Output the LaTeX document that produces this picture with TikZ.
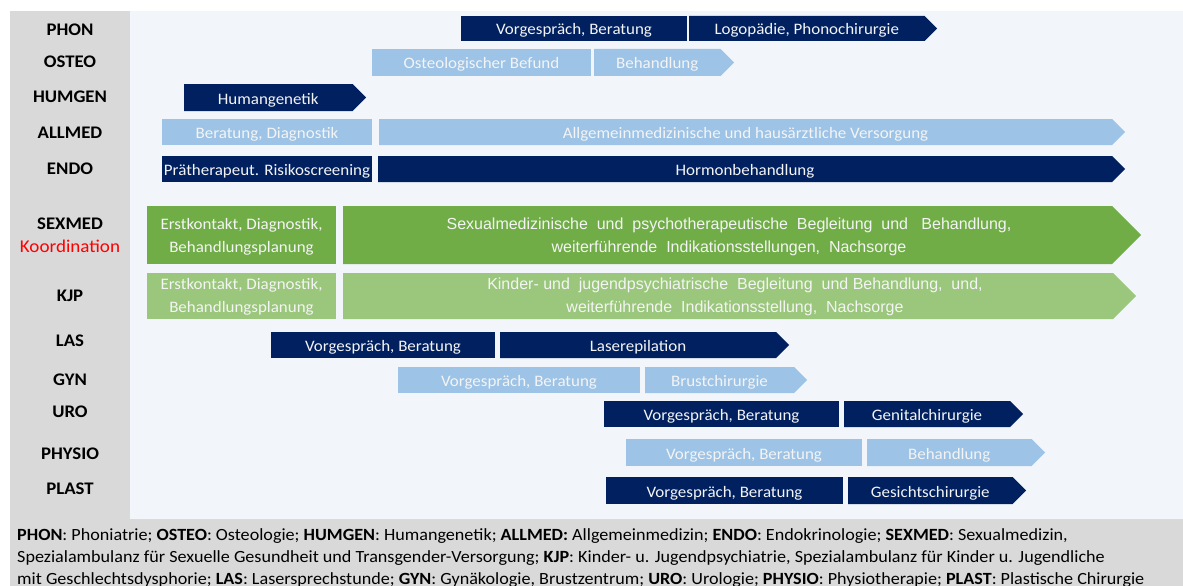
\documentclass[tikz,border=0pt]{standalone}
\usepackage{fontspec}
\setmainfont{Carlito}[FakeStretch=1.06]
\newfontfamily\narrowfont{Liberation Sans}
\definecolor{navy}{HTML}{002060}
\definecolor{lblue}{HTML}{9DC3E6}
\definecolor{dgreen}{HTML}{70AD47}
\definecolor{lgreen}{HTML}{9AC77B}
\definecolor{bgblue}{HTML}{F2F6FB}
\definecolor{graycol}{HTML}{D9D9D9}
\definecolor{koord}{HTML}{FF0000}
\definecolor{txtw}{HTML}{F4F4F4}
\tikzset{
  lbl/.style={font=\fontsize{17.7}{20}\selectfont\bfseries, text=black, inner sep=0pt, text height=11.5pt, text depth=0pt},
  bartext/.style={font=\fontsize{16}{19}\selectfont, text=txtw, inner sep=0pt, text height=10pt, text depth=0pt, yshift=-1.5pt},
  twoline/.style={font=\fontsize{16}{23}\selectfont, text=txtw, inner sep=0pt, align=center},
  greentext/.style={font=\narrowfont\fontsize{16}{23}\selectfont, text=txtw, inner sep=0pt, align=center},
  legend/.style={font=\fontsize{17.1}{22}\selectfont, text=black, inner sep=0pt, anchor=base west},
}
% #1 name, #2 x1, #3 x2, #4 ytop, #5 ybottom, #6 colour, #7 text
\newcommand\rectbar[7]{%
  \fill[#6] (#2,#4) rectangle (#3,#5);
  \node[bartext] (#1) at ({(#2+#3)/2},{(#4+#5)/2}) {#7};}
% arrow bar: #3 = tip x
\newcommand\arrowbar[7]{%
  \fill[#6] (#2,#4) -- ({#3-(#5-#4)/2},#4) -- (#3,{(#4+#5)/2}) -- ({#3-(#5-#4)/2},#5) -- (#2,#5) -- cycle;
  \node[bartext] (#1) at ({(#2+#3-(#5-#4)/2)/2},{(#4+#5)/2}) {#7};}
\newcommand\arrowshape[6]{%
  \fill[#6] (#2,#4) -- ({#3-(#5-#4)/2},#4) -- (#3,{(#4+#5)/2}) -- ({#3-(#5-#4)/2},#5) -- (#2,#5) -- cycle;
  \coordinate (#1) at ({(#2+#3-(#5-#4)/2)/2},{(#4+#5)/2});}
\begin{document}
\begin{tikzpicture}[x=1pt,y=-1pt]
\useasboundingbox (0,0) rectangle (1183,586);
\clip (0,0) rectangle (1183,586);
\fill[white] (0,0) rectangle (1183,586);
% backgrounds
\fill[graycol] (10,11) rectangle (130,600);
\fill[graycol] (10,519) rectangle (1183,600);
\fill[bgblue] (130,11) rectangle (1183,519);
% row labels
\node[lbl] (lphon) at (70,29.5) {PHON};
\node[lbl] (losteo) at (70,62) {OSTEO};
\node[lbl] (lhumgen) at (70,97) {HUMGEN};
\node[lbl] (lallmed) at (70,132.5) {ALLMED};
\node[lbl] (lendo) at (70,168.5) {ENDO};
\node[lbl] (lsexmed) at (70,223.5) {SEXMED};
\node[font=\fontsize{18}{20}\selectfont, text=koord, inner sep=0pt, text height=11.5pt, text depth=0pt] (lkoord) at (70,246.5) {Koordination};
\node[lbl] (lkjp) at (70,296) {KJP};
\node[lbl] (llas) at (70,341) {LAS};
\node[lbl] (lgyn) at (70,379.5) {GYN};
\node[lbl] (luro) at (70,412) {URO};
\node[lbl] (lphysio) at (70,453.5) {PHYSIO};
\node[lbl] (lplast) at (70,488.5) {PLAST};
% PHON
\rectbar{phonA}{461}{687}{16}{41}{navy}{Vorgespräch, Beratung}
\arrowbar{phonB}{689}{937}{16}{41}{navy}{Logopädie, Phonochirurgie}
% OSTEO
\rectbar{osteoA}{372}{591}{49}{76}{lblue}{Osteologischer Befund}
\arrowbar{osteoB}{594}{734}{49}{76}{lblue}{Behandlung}
% HUMGEN
\arrowbar{humgenA}{184}{366}{84}{111}{navy}{Humangenetik}
% ALLMED
\rectbar{allmedA}{162}{372}{119}{145}{lblue}{Beratung, Diagnostik}
\arrowbar{allmedB}{379}{1125}{119}{145}{lblue}{Allgemeinmedizinische und hausärztliche Versorgung}
% ENDO
\rectbar{endoA}{162}{372}{156}{182}{navy}{Prätherapeut. Risikoscreening}
\arrowbar{endoB}{378}{1125}{156}{182}{navy}{Hormonbehandlung}
% SEXMED
\fill[dgreen] (147,206) rectangle (336,264);
\node[twoline] (sexmedA) at (241.5,237) {Erstkontakt, Diagnostik,\\Behandlungsplanung};
\arrowshape{sexmedBc}{343}{1141}{206}{264}{dgreen}
\node[greentext] (sexmedB) at (729,237) {Sexualmedizinische\ \ und\ \ psychotherapeutische\ \ Begleitung\ \ und\ \ \ Behandlung,\\weiterführende\ \ Indikationsstellungen,\ \ Nachsorge};
% KJP
\fill[lgreen] (147,273) rectangle (336,319);
\node[twoline] (kjpA) at (241.5,297) {Erstkontakt, Diagnostik,\\Behandlungsplanung};
\arrowshape{kjpBc}{343}{1136}{273}{319}{lgreen}
\node[greentext] (kjpB) at (735,297) {Kinder-\ und\ \ jugendpsychiatrische\ \ Begleitung\ \ und\ Behandlung,\ \ und,\\weiterführende\ \ Indikationsstellung,\ \ Nachsorge};
% LAS
\rectbar{lasA}{271}{495}{332}{358}{navy}{Vorgespräch, Beratung}
\arrowbar{lasB}{500}{789}{332}{358}{navy}{Laserepilation}
% GYN
\rectbar{gynA}{398}{640}{367}{393}{lblue}{Vorgespräch, Beratung}
\arrowbar{gynB}{645}{807}{367}{393}{lblue}{Brustchirurgie}
% URO
\rectbar{uroA}{604}{839}{401}{427}{navy}{Vorgespräch, Beratung}
\arrowbar{uroB}{844}{1023}{401}{427}{navy}{Genitalchirurgie}
% PHYSIO
\rectbar{physioA}{626}{862}{439}{466}{lblue}{Vorgespräch, Beratung}
\arrowbar{physioB}{867}{1045}{439}{466}{lblue}{Behandlung}
% PLAST
\rectbar{plastA}{606}{843}{477}{504}{navy}{Vorgespräch, Beratung}
\arrowbar{plastB}{848}{1026}{477}{504}{navy}{Gesichtschirurgie}
% legend
\node[legend] (leg1) at (17,540) {\textbf{PHON}: Phoniatrie; \textbf{OSTEO}: Osteologie; \textbf{HUMGEN}: Humangenetik; \textbf{ALLMED:} Allgemeinmedizin; \textbf{ENDO}: Endokrinologie; \textbf{SEXMED}: Sexualmedizin,};
\node[legend] (leg2) at (17,562) {Spezialambulanz für Sexuelle Gesundheit und Transgender-Versorgung; \textbf{KJP}: Kinder- u. Jugendpsychiatrie, Spezialambulanz für Kinder u. Jugendliche};
\node[legend] (leg3) at (17,584) {mit Geschlechtsdysphorie; \textbf{LAS}: Lasersprechstunde; \textbf{GYN}: Gynäkologie, Brustzentrum; \textbf{URO}: Urologie; \textbf{PHYSIO}: Physiotherapie; \textbf{PLAST}: Plastische Chirurgie};
\end{tikzpicture}
\end{document}
